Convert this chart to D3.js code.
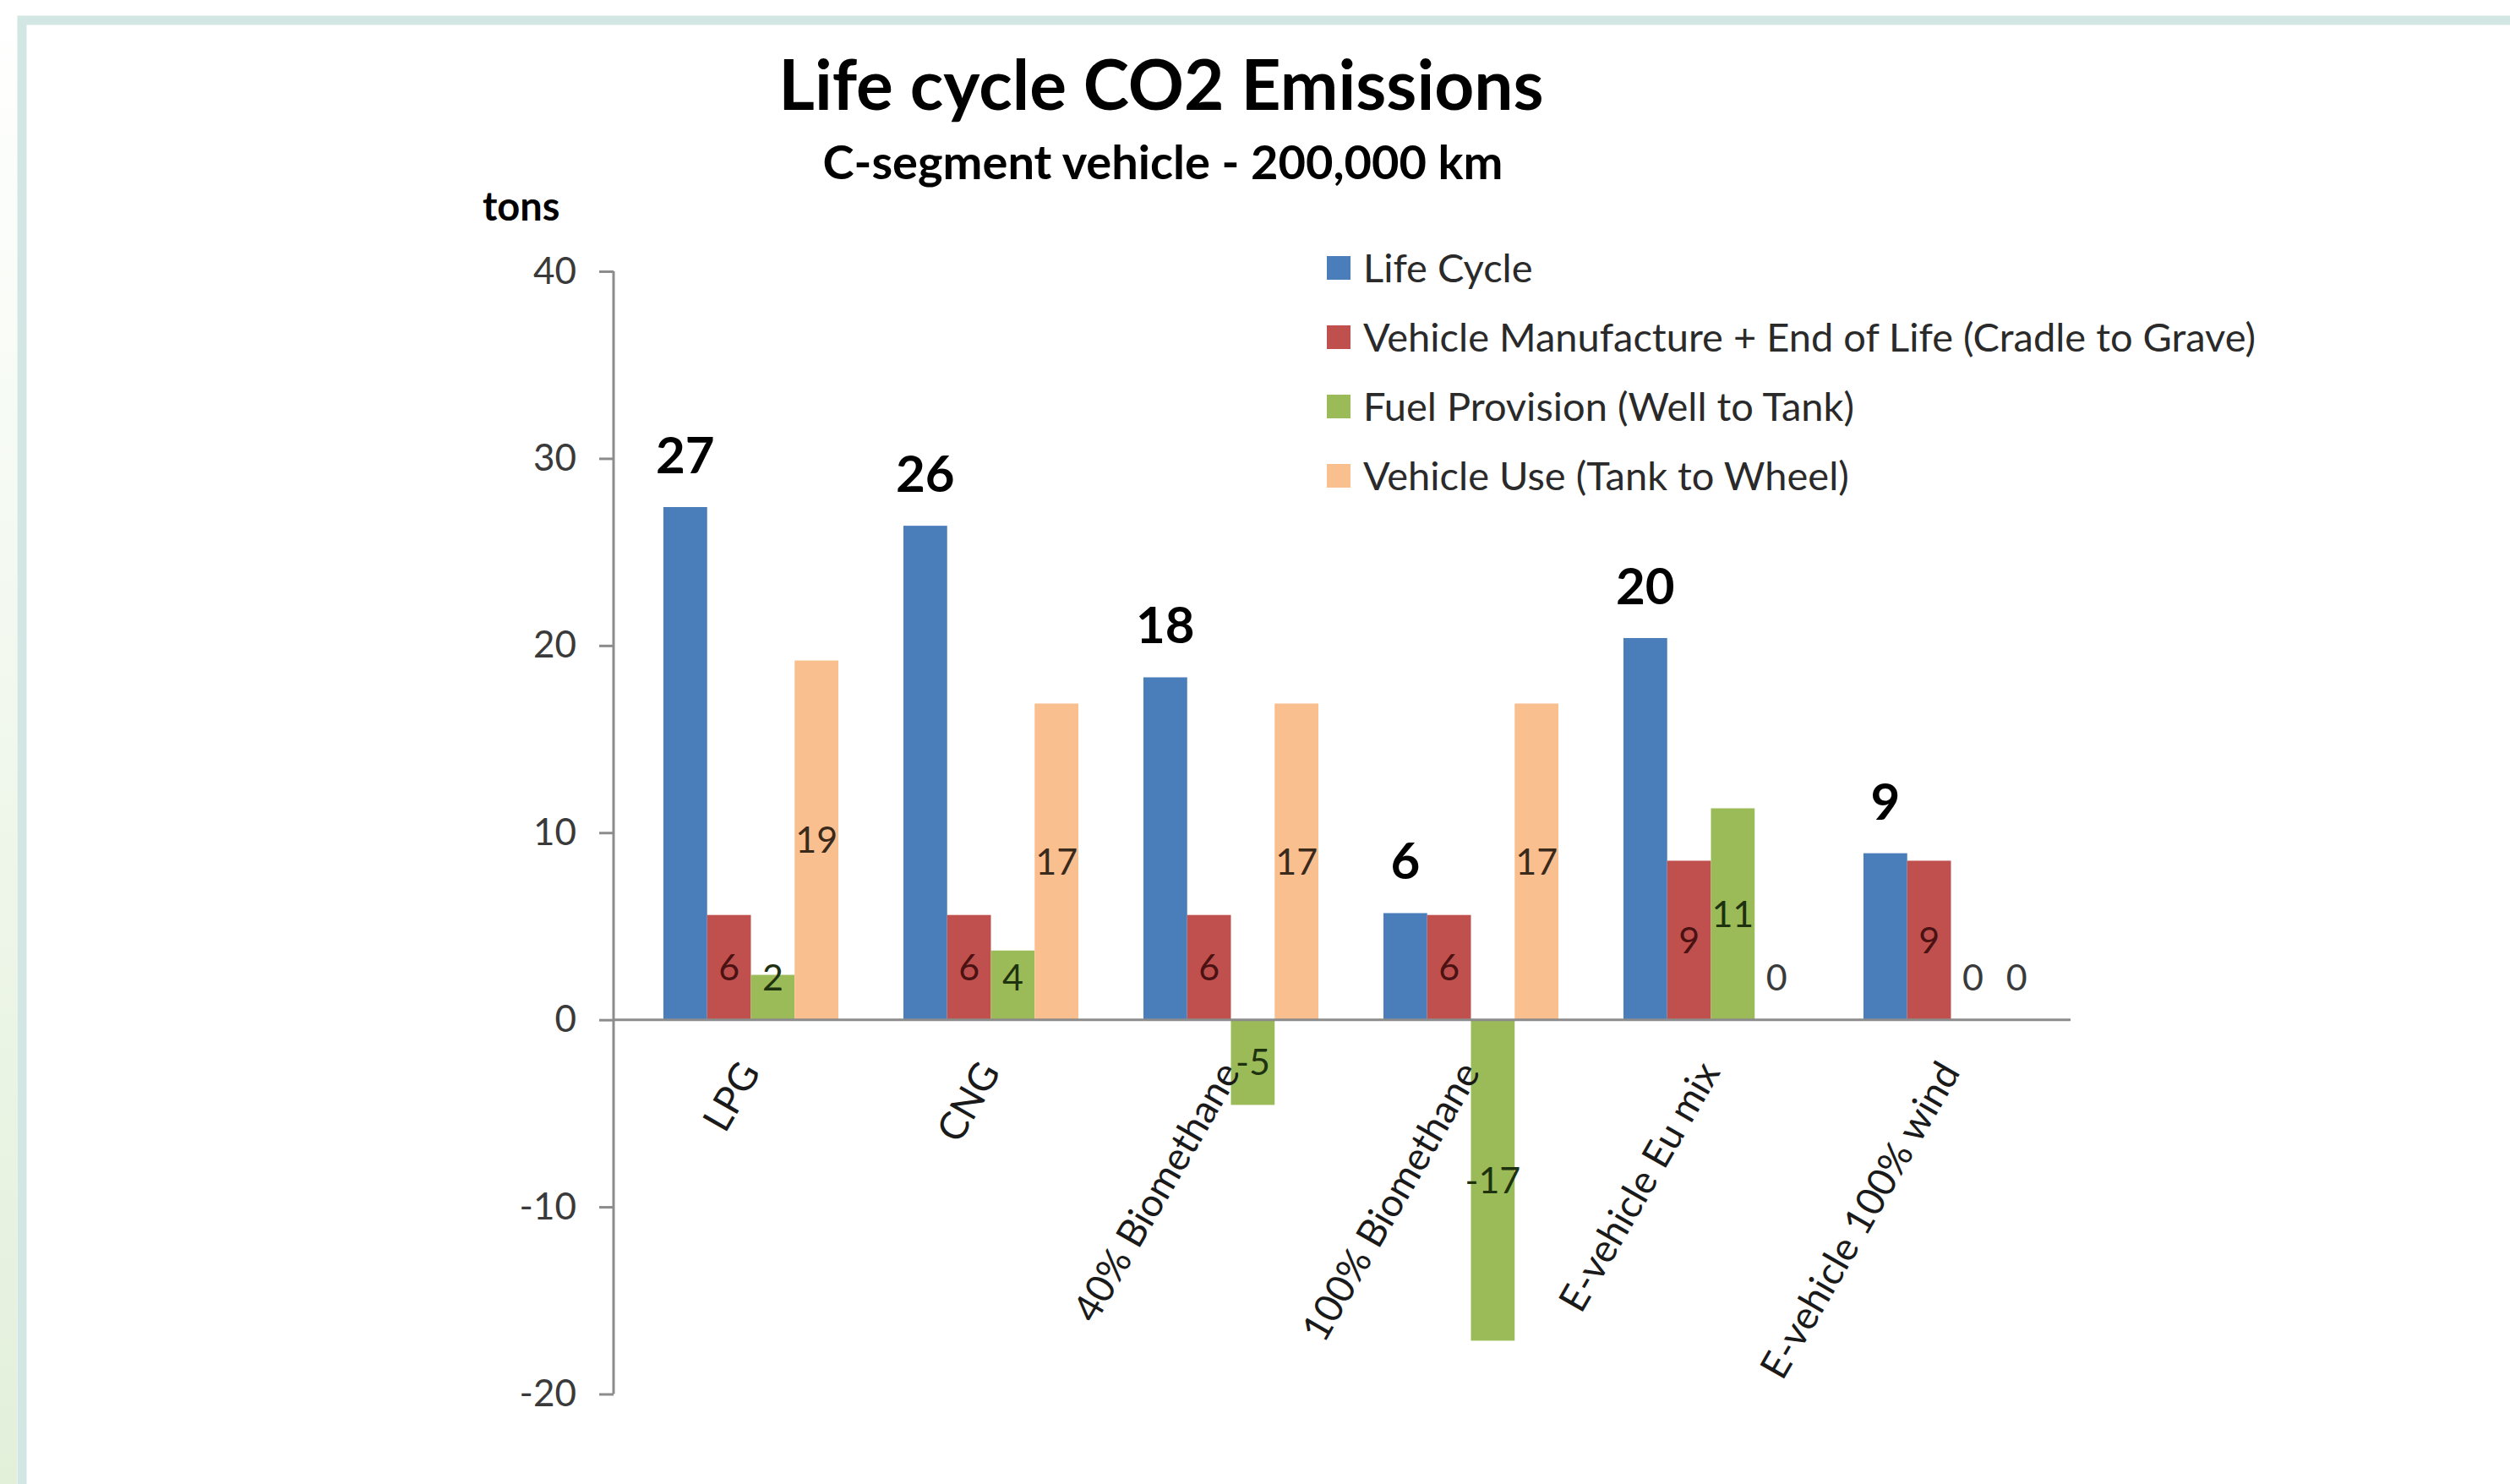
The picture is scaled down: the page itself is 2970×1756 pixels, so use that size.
<!DOCTYPE html>
<html>
<head>
<meta charset="utf-8">
<script src="https://cdn.jsdelivr.net/npm/d3@7"></script>
<style>
  html, body { margin: 0; padding: 0; background: #fff; }
  svg { display: block; font-family: Lato, "Open Sans", sans-serif; }
</style>
</head>
<body>
<div id="chart"></div>
<script>
var categories = ["LPG", "CNG", "40% Biomethane", "100% Biomethane", "E-vehicle Eu mix", "E-vehicle 100% wind"];
var seriesNames = ["Life Cycle", "Vehicle Manufacture + End of Life (Cradle to Grave)", "Fuel Provision (Well to Tank)", "Vehicle Use (Tank to Wheel)"];
var lifeCycle     = [27.4, 26.4, 18.3, 5.7, 20.4, 8.9];
var manufacture   = [5.6, 5.6, 5.6, 5.6, 8.5, 8.5];
var fuelProvision = [2.4, 3.7, -4.55, -17.15, 11.3, 0];
var vehicleUse    = [19.2, 16.9, 16.9, 16.9, 0, 0];
var yTicks = [-20, -10, 0, 10, 20, 30, 40];

var seriesColors = ["#4a7ebb", "#c0504d", "#9bbb59", "#fabf8f"];
var labelColors  = ["#000", "#4a1212", "#1e3210", "#3a2a1c"];

var width = 2970, height = 1756;
var seriesValues = [lifeCycle, manufacture, fuelProvision, vehicleUse];

var svg = d3.select("#chart").append("svg")
  .attr("width", width)
  .attr("height", height);

// slide frame: pale green strip on the left, teal border
var grad = svg.append("defs").append("linearGradient")
  .attr("id", "leftStrip").attr("x1", 0).attr("y1", 0).attr("x2", 0).attr("y2", 1);
grad.append("stop").attr("offset", "0%").attr("stop-color", "#ffffff");
grad.append("stop").attr("offset", "100%").attr("stop-color", "#e2f0da");
svg.append("rect").attr("x", 0).attr("y", 0).attr("width", 20).attr("height", height)
  .attr("fill", "url(#leftStrip)");
svg.append("rect").attr("x", 26).attr("y", 24).attr("width", width + 40).attr("height", height + 40)
  .attr("fill", "none").attr("stroke", "#d2e6e3").attr("stroke-width", 11);

var y = d3.scaleLinear()
  .domain([-20, 40])
  .range([1649.5, 321]);

var x0 = d3.scaleBand()
  .domain(categories)
  .range([746.5, 2450.5])
  .paddingInner(0.271)
  .paddingOuter(0.1355);

var x1 = d3.scaleBand()
  .domain(d3.range(seriesNames.length))
  .range([0, x0.bandwidth()]);

var axisX = 726;

// titles
svg.append("text")
  .attr("x", 1374).attr("y", 130)
  .attr("text-anchor", "middle")
  .style("font-size", "82px").style("font-weight", "bold")
  .text("Life cycle CO2 Emissions");

svg.append("text")
  .attr("x", 1376).attr("y", 212)
  .attr("text-anchor", "middle")
  .style("font-size", "56px").style("font-weight", "bold")
  .text("C-segment vehicle - 200,000 km");

svg.append("text")
  .attr("x", 571).attr("y", 261)
  .style("font-size", "47px").style("font-weight", "bold")
  .text("tons");

// y axis
var yAxis = svg.append("g")
  .attr("transform", "translate(" + axisX + ",0)")
  .call(d3.axisLeft(y)
    .tickValues(yTicks)
    .tickSize(17)
    .tickPadding(27)
    .tickFormat(d => String(d)));
yAxis.select(".domain").remove();
yAxis.selectAll(".tick line").attr("stroke", "#8c8c8c").attr("stroke-width", 3);
yAxis.selectAll(".tick text")
  .attr("fill", "#3a3a3a")
  .style("font-size", "44px")
  .style("font-family", "Lato, sans-serif");

svg.append("line")
  .attr("x1", axisX).attr("x2", axisX)
  .attr("y1", y(40)).attr("y2", y(-20))
  .attr("stroke", "#8c8c8c").attr("stroke-width", 3);

// bars
var groups = svg.append("g").attr("class", "bars")
  .selectAll("g")
  .data(categories)
  .enter().append("g")
    .attr("transform", d => "translate(" + x0(d) + ",0)");

var cells = groups.selectAll("rect")
  .data((d, i) => seriesValues.map((s, k) => ({ k: k, v: s[i] })))
  .enter();

cells.append("rect")
  .attr("x", d => x1(d.k))
  .attr("width", x1.bandwidth())
  .attr("y", d => y(Math.max(0, d.v)))
  .attr("height", d => Math.abs(y(d.v) - y(0)))
  .attr("fill", d => seriesColors[d.k]);

// zero line drawn over the bars
svg.append("line")
  .attr("x1", axisX).attr("x2", 2450)
  .attr("y1", y(0)).attr("y2", y(0))
  .attr("stroke", "#8c8c8c").attr("stroke-width", 3);

// value labels
var fmt = v => String(Math.round(v));

groups.selectAll("text.big")
  .data((d, i) => [lifeCycle[i]])
  .enter().append("text")
    .attr("class", "big")
    .attr("x", x1(0) + x1.bandwidth() / 2)
    .attr("y", d => y(d) - 40)
    .attr("text-anchor", "middle")
    .style("font-size", "60px").style("font-weight", "bold")
    .text(fmt);

groups.selectAll("text.small")
  .data((d, i) => seriesValues.slice(1).map((s, k) => ({ k: k + 1, v: s[i] })))
  .enter().append("text")
    .attr("class", "small")
    .attr("x", d => x1(d.k) + x1.bandwidth() / 2)
    .attr("y", d => {
      var mid = (y(d.v) + y(0)) / 2;
      if (d.v >= 0) mid = Math.min(mid, y(0) - 50);
      return mid;
    })
    .attr("dy", "0.35em")
    .attr("text-anchor", "middle")
    .attr("fill", d => d.v === 0 ? "#3a3a3a" : labelColors[d.k])
    .style("font-size", "43px")
    .text(d => fmt(d.v));

// category labels, rotated
svg.append("g").selectAll("text")
  .data(categories)
  .enter().append("text")
    .attr("transform", d => "translate(" + (x0(d) + x0.bandwidth() / 2 + 12) + "," + (y(0) + 62) + ") rotate(-60)")
    .attr("text-anchor", "end")
    .attr("fill", "#1a1a1a")
    .style("font-size", "46px")
    .text(d => d);

// legend
var legend = svg.append("g").selectAll("g")
  .data(seriesNames)
  .enter().append("g")
    .attr("transform", (d, i) => "translate(1570," + (303 + i * 82) + ")");

legend.append("rect")
  .attr("width", 28).attr("height", 28)
  .attr("fill", (d, i) => seriesColors[i]);

legend.append("text")
  .attr("x", 43).attr("y", 14)
  .attr("dy", "0.36em")
  .attr("fill", "#2a2a2a")
  .style("font-size", "47px")
  .text(d => d);
</script>
</body>
</html>
